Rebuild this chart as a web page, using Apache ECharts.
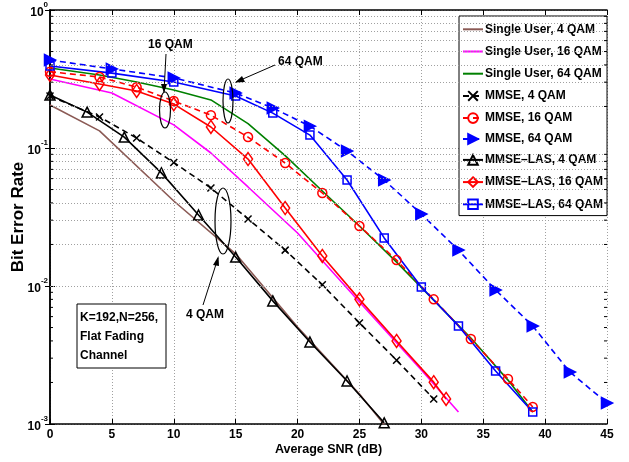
<!DOCTYPE html>
<html><head><meta charset="utf-8">
<script src="https://cdn.jsdelivr.net/npm/echarts@6/dist/echarts.min.js"></script>
<style>html,body{margin:0;padding:0;background:#fff}#c{width:629px;height:462px}</style>
</head><body><div id="c"></div>
<script>
// ---------- data ----------
const xTicks = [0,5,10,15,20,25,30,35,40,45];
const yTicks = [0.001,0.01,0.1,1];
const yMinorGrid = [0.002,0.003,0.004,0.005,0.006,0.007,0.008,0.009,0.02,0.03,0.04,0.05,0.06,0.07,0.08,0.09,0.2,0.3,0.4,0.5,0.6,0.7,0.8,0.9];

const snrSU4 = [0,4,10,15,20,25,27];
const berSU4 = [0.205,0.133,0.0413,0.0171,0.00505,0.00165,0.00099];
const snrSU16 = [0,5,10,13,16,20,25,30,33];
const berSU16 = [0.316,0.250,0.147,0.092,0.0522,0.0242,0.00765,0.00246,0.00122];
const snrSU64 = [0,4,7,10,13,16,19,22,25,28,31,34,37,39];
const berSU64 = [0.380,0.338,0.301,0.263,0.223,0.150,0.088,0.0488,0.0272,0.0149,0.0079,0.0042,0.00208,0.00122];

const snrM4 = [0,4,7,10,13,16,19,22,25,28,31];
const berM4 = [0.238,0.168,0.118,0.0785,0.0513,0.0306,0.0182,0.0102,0.0054,0.0029,0.00152];
const snrM16 = [0,4,7,10,13,16,19,22,25,28,31,34,37,39];
const berM16 = [0.357,0.327,0.276,0.219,0.173,0.120,0.0778,0.0472,0.0272,0.0154,0.0080,0.00413,0.00212,0.00133];
const snrM64 = [0,5,10,15,18,21,24,27,30,33,36,39,42,45];
const berM64 = [0.434,0.374,0.322,0.250,0.195,0.144,0.0951,0.0586,0.0332,0.0182,0.00936,0.00513,0.00238,0.00142];

const snrL4 = [0,3,6,9,12,15,18,21,24,27];
const berL4 = [0.242,0.182,0.120,0.066,0.0327,0.0162,0.0078,0.00393,0.00205,0.00102];
const snrL16 = [0,4,7,10,13,16,19,22,25,28,31,32];
const berL16 = [0.338,0.291,0.259,0.208,0.142,0.0832,0.0367,0.0165,0.0080,0.0040,0.00201,0.00152];
const snrL64 = [0,5,10,15,18,21,24,27,30,33,36,39];
const berL64 = [0.393,0.349,0.301,0.238,0.179,0.124,0.0586,0.0223,0.00984,0.00513,0.00242,0.00122];

const names = ['Single User, 4 QAM','Single User, 16 QAM','Single User, 64 QAM','MMSE, 4 QAM','MMSE, 16 QAM','MMSE, 64 QAM','MMSE\u2013LAS, 4 QAM','MMSE\u2013LAS, 16 QAM','MMSE\u2013LAS, 64 QAM'];

// ---------- chart ----------
const FONT = "'Liberation Sans',Arial,sans-serif";
const zip = (a,b) => a.map((v,i)=>[v,b[i]]);
const chart = echarts.init(document.getElementById('c'), null, {renderer:'canvas'});

function line(name, xs, ys, color, type, symbol, size, fill, extra) {
  return Object.assign({
    name, type:'line', data: zip(xs,ys), xAxisIndex:0, yAxisIndex:0,
    symbol: symbol || 'none', symbolSize: size || 8, showSymbol: !!symbol,
    lineStyle:{color, width:1.6, type: type || 'solid'},
    itemStyle:{color: fill || 'none', borderColor: color, borderWidth:1.5},
    emphasis:{disabled:true}, animation:false, z:3
  }, extra || {});
}
const dash = [6,4];
const series = [
  line(names[0], snrSU4, berSU4, '#8b5a55'),
  line(names[1], snrSU16, berSU16, '#ff00ff'),
  line(names[2], snrSU64, berSU64, '#008000'),
  line(names[3], snrM4, berM4, '#000', dash, 'path://M0,0L10,10M10,0L0,10', 7, 'none'),
  line(names[4], snrM16, berM16, '#ff0000', dash, 'circle', 9, 'none'),
  line(names[5], snrM64, berM64, '#0000ff', dash, 'triangle', 11, '#0000ff', {symbolRotate:-90}),
  line(names[6], snrL4, berL4, '#000', 'solid', 'triangle', 10, 'none'),
  line(names[7], snrL16, berL16, '#ff0000', 'solid', 'diamond', [9,13], 'none'),
  line(names[8], snrL64, berL64, '#0000ff', 'solid', 'rect', 8, 'none')
];
// minor horizontal grid lines via markLine on the first series
series[0].markLine = {
  silent:true, symbol:['none','none'], label:{show:false}, animation:false,
  lineStyle:{color:'#a0a0a0', type:[1,2], width:1},
  data: yMinorGrid.map(v=>({yAxis:v}))
};

const axisLineStyle = {lineStyle:{color:'#000', width:1.5}};
const tickStyle = {inside:true, length:5, lineStyle:{color:'#000', width:1}};
const gridLine = {show:true, lineStyle:{color:'#a0a0a0', type:[1,2], width:1}};

const legendData = names.map((n,i)=> i<3 ? {name:n, itemStyle:{opacity:0}} : {name:n});

const annotations = [
  // 16 QAM annotation
  {type:'text', left:148, top:39, style:{text:'16 QAM', font:"bold 12px "+FONT, fill:'#000'}, z:10},
  {type:'line', shape:{x1:166,y1:54,x2:164,y2:92}, style:{stroke:'#000', lineWidth:1}, z:10},
  {type:'polygon', shape:{points:[[161,84],[167,84],[164,93]]}, style:{fill:'#000'}, z:10},
  {type:'ellipse', shape:{cx:165,cy:110,rx:5.5,ry:18}, style:{stroke:'#000', fill:'none', lineWidth:1.2}, z:10},
  // 64 QAM annotation
  {type:'text', left:278, top:56, style:{text:'64 QAM', font:"bold 12px "+FONT, fill:'#000'}, z:10},
  {type:'line', shape:{x1:275,y1:65,x2:236,y2:82}, style:{stroke:'#000', lineWidth:1}, z:10},
  {type:'polygon', shape:{points:[[235,82.5],[242,76],[245,82]]}, style:{fill:'#000'}, z:10},
  {type:'ellipse', shape:{cx:228,cy:101,rx:5,ry:22}, style:{stroke:'#000', fill:'none', lineWidth:1.2}, z:10},
  // 4 QAM annotation
  {type:'text', left:186, top:309, style:{text:'4 QAM', font:"bold 12px "+FONT, fill:'#000'}, z:10},
  {type:'line', shape:{x1:203,y1:305,x2:218,y2:258}, style:{stroke:'#000', lineWidth:1}, z:10},
  {type:'polygon', shape:{points:[[218.5,256],[213,265],[219,266]]}, style:{fill:'#000'}, z:10},
  {type:'ellipse', shape:{cx:223,cy:221,rx:8,ry:33}, style:{stroke:'#000', fill:'none', lineWidth:1.2}, z:10},
  // parameter box
  {type:'rect', shape:{x:77,y:304,width:89,height:64}, style:{stroke:'#000', fill:'#fff', lineWidth:1}, z:10},
  {type:'text', left:80, top:308, style:{text:'K=192,N=256,\nFlat Fading\nChannel', font:"bold 12px "+FONT, lineHeight:19, fill:'#000'}, z:11}
];

chart.setOption({
  animation:false,
  backgroundColor:'#fff',
  textStyle:{fontFamily:FONT},
  grid:{left:50, right:22, top:10, bottom:38, containLabel:false, outerBoundsMode:'none'},
  legend:{
    orient:'vertical', left:459, top:16, padding:[6,4,4,3],
    itemWidth:20, itemHeight:12, itemGap:7.6,
    backgroundColor:'#fff', borderColor:'#000', borderWidth:1, borderRadius:0,
    textStyle:{fontFamily:FONT, fontWeight:'bold', fontSize:12, color:'#000', padding:[0,0,0,-3]},
    data:legendData
  },
  xAxis:[
    {type:'value', min:0, max:45, interval:5, position:'bottom',
     name:'Average SNR (dB)', nameLocation:'middle', nameGap:19, nameMoveOverlap:false,
     nameTextStyle:{fontFamily:FONT, fontWeight:'bold', fontSize:12.5, color:'#000'},
     axisLine:axisLineStyle, axisTick:tickStyle,
     axisLabel:{fontFamily:FONT, fontWeight:'bold', fontSize:12, color:'#000', margin:5},
     splitLine:gridLine},
    {type:'value', min:0, max:45, interval:5, position:'top',
     axisLine:axisLineStyle, axisTick:tickStyle, axisLabel:{show:false}, splitLine:{show:false}}
  ],
  yAxis:[
    {type:'log', logBase:10, min:0.001, max:1, position:'left',
     name:'Bit Error Rate', nameLocation:'middle', nameGap:23, nameMoveOverlap:false,
     nameTextStyle:{fontFamily:FONT, fontWeight:'bold', fontSize:17, color:'#000'},
     axisLine:axisLineStyle, axisTick:tickStyle,
     axisLabel:{margin:2, formatter:v=>{const e=Math.round(Math.log10(v)); return '{b|10}{s|'+e+'}';},
       rich:{b:{fontFamily:FONT,fontWeight:'bold',fontSize:12,color:'#000',verticalAlign:'bottom',lineHeight:18},
             s:{fontFamily:FONT,fontWeight:'bold',fontSize:8,color:'#000',verticalAlign:'top',lineHeight:18,padding:[0,0,6,0]}}},
     splitLine:gridLine},
    {type:'log', logBase:10, min:0.001, max:1, position:'right',
     axisLine:axisLineStyle, axisTick:tickStyle, axisLabel:{show:false}, splitLine:{show:false}}
  ],
  series:series,
  graphic:annotations
});

// minor tick marks on the left and right axes (log positions 2..9 x 10^k)
const minorTicks = [];
yMinorGrid.forEach(v=>{
  const yL = chart.convertToPixel({yAxisIndex:0}, v);
  const xL = chart.convertToPixel({xAxisIndex:0}, 0);
  const xR = chart.convertToPixel({xAxisIndex:0}, 45);
  minorTicks.push({type:'line', shape:{x1:xL, y1:yL, x2:xL+3, y2:yL}, style:{stroke:'#000', lineWidth:1}, z:9, silent:true});
  minorTicks.push({type:'line', shape:{x1:xR-3, y1:yL, x2:xR, y2:yL}, style:{stroke:'#000', lineWidth:1}, z:9, silent:true});
});
chart.setOption({graphic: annotations.concat(minorTicks)}, {replaceMerge:['graphic']});
</script></body></html>
